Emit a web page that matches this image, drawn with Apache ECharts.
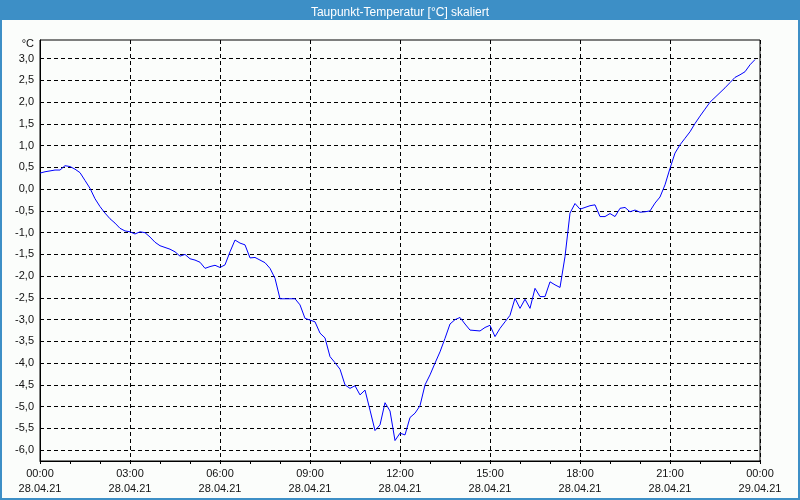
<!DOCTYPE html>
<html>
<head>
<meta charset="utf-8">
<script src="https://cdn.jsdelivr.net/npm/echarts@6/dist/echarts.min.js"></script>
<style>
html,body{margin:0;padding:0;background:#fbfdfb;}
#chart{width:800px;height:500px;}
</style>
</head>
<body>
<div id="chart"></div>
<script>
// Chart title and units
const chartTitle = 'Taupunkt-Temperatur [°C] skaliert';
const unitLabel = '°C';

// Sampling: one value every 10 minutes, starting 28.04.21 00:00
const sampleMinutes = 10;

// Dew point values (°C)
const dewPoint = [
  0.37, 0.40, 0.42, 0.44, 0.44, 0.54, 0.52, 0.46, 0.38, 0.20,
  0.02, -0.22, -0.40, -0.55, -0.68, -0.78, -0.90, -0.96, -0.98, -1.03,
  -0.98, -1.00, -1.10, -1.22, -1.30, -1.34, -1.38, -1.44, -1.54, -1.50,
  -1.60, -1.63, -1.68, -1.82, -1.78, -1.75, -1.80, -1.74, -1.44, -1.17,
  -1.24, -1.28, -1.58, -1.57, -1.63, -1.69, -1.82, -2.05, -2.52, -2.52,
  -2.52, -2.52, -2.66, -2.97, -3.01, -3.05, -3.31, -3.42, -3.85, -3.99,
  -4.14, -4.50, -4.58, -4.52, -4.73, -4.62, -5.08, -5.55, -5.42, -4.91,
  -5.10, -5.78, -5.61, -5.65, -5.25, -5.15, -4.98, -4.50, -4.27, -4.00,
  -3.74, -3.43, -3.10, -3.00, -2.95, -3.10, -3.24, -3.25, -3.26, -3.18,
  -3.13, -3.39, -3.20, -3.05, -2.90, -2.51, -2.74, -2.53, -2.74, -2.28,
  -2.47, -2.47, -2.13, -2.20, -2.26, -1.55, -0.55, -0.33, -0.46, -0.42,
  -0.38, -0.36, -0.63, -0.63, -0.56, -0.63, -0.44, -0.42, -0.52, -0.48,
  -0.53, -0.52, -0.50, -0.32, -0.18, 0.10, 0.48, 0.83, 1.02, 1.17,
  1.32, 1.51, 1.68, 1.84, 2.00, 2.11, 2.22, 2.33, 2.45, 2.57,
  2.63, 2.70, 2.86, 2.98
];

// X axis tick positions (hours since start) and their two-line labels
const xTickHours = [0, 3, 6, 9, 12, 15, 18, 21, 24];
const xTickTimes = ['00:00', '03:00', '06:00', '09:00', '12:00', '15:00', '18:00', '21:00', '00:00'];
const xTickDates = ['28.04.21', '28.04.21', '28.04.21', '28.04.21', '28.04.21', '28.04.21', '28.04.21', '28.04.21', '29.04.21'];

// Y axis tick labels
const yTicks = [-6.0, -5.5, -5.0, -4.5, -4.0, -3.5, -3.0, -2.5, -2.0, -1.5, -1.0, -0.5, 0.0, 0.5, 1.0, 1.5, 2.0, 2.5, 3.0];

const lineData = dewPoint.map((v, i) => [i * sampleMinutes / 60, v]);

const labelFont = "'Liberation Sans Narrow', 'Liberation Sans', Arial, sans-serif";
const frameBlue = '#3d8fc6';

const chart = echarts.init(document.getElementById('chart'), null, {renderer: 'canvas'});
chart.setOption({
  backgroundColor: '#fbfdfb',
  animation: false,
  title: {
    text: chartTitle,
    left: 'center',
    top: 2,
    textStyle: {color: '#ffffff', fontSize: 12, fontWeight: 'normal', fontFamily: "'Liberation Sans', Arial, sans-serif"}
  },
  graphic: [
    {type: 'rect', z: -10, silent: true, shape: {x: 0, y: 0, width: 800, height: 20}, style: {fill: frameBlue}},
    {type: 'rect', z: -10, silent: true, shape: {x: 1, y: 1, width: 798, height: 498}, style: {fill: null, stroke: frameBlue, lineWidth: 2}}
  ],
  grid: {
    left: 40, right: 40, top: 40, bottom: 39,
    show: true, borderColor: '#000', borderWidth: 1, backgroundColor: 'transparent'
  },
  xAxis: {
    type: 'value',
    min: 0, max: 24, interval: 3,
    axisLine: {show: true, onZero: false, lineStyle: {color: '#000', width: 1}},
    axisTick: {show: true, inside: false, length: 3, lineStyle: {color: '#000'}},
    minorTick: {show: true, splitNumber: 3, length: 3, lineStyle: {color: '#000'}},
    splitLine: {show: true, lineStyle: {color: '#000', type: [4, 3], width: 1}},
    axisLabel: {
      margin: 5,
      fontSize: 11,
      lineHeight: 15,
      color: '#111',
      fontFamily: labelFont,
      formatter: function (val) {
        const i = xTickHours.indexOf(Math.round(val));
        return i >= 0 ? xTickTimes[i] + '\n' + xTickDates[i] : '';
      }
    }
  },
  yAxis: {
    type: 'value',
    min: -6.25, max: 3.43,
    name: unitLabel,
    nameLocation: 'end',
    nameGap: -4,
    nameTextStyle: {align: 'right', verticalAlign: 'middle', padding: [0, 6, 0, 0], fontSize: 11, color: '#111', fontFamily: labelFont},
    axisLine: {show: true, onZero: false, lineStyle: {color: '#000', width: 1}},
    axisTick: {show: false, customValues: yTicks},
    splitLine: {show: true, lineStyle: {color: '#000', type: [4, 3], width: 1}},
    axisLabel: {
      customValues: yTicks,
      margin: 6,
      fontSize: 11,
      color: '#111',
      fontFamily: labelFont,
      formatter: function (val) { return val.toFixed(1).replace('.', ','); }
    }
  },
  series: [{
    type: 'line',
    data: lineData,
    showSymbol: false,
    smooth: false,
    lineStyle: {color: '#0000ff', width: 1},
    itemStyle: {color: '#0000ff'}
  }]
});
</script>
</body>
</html>
